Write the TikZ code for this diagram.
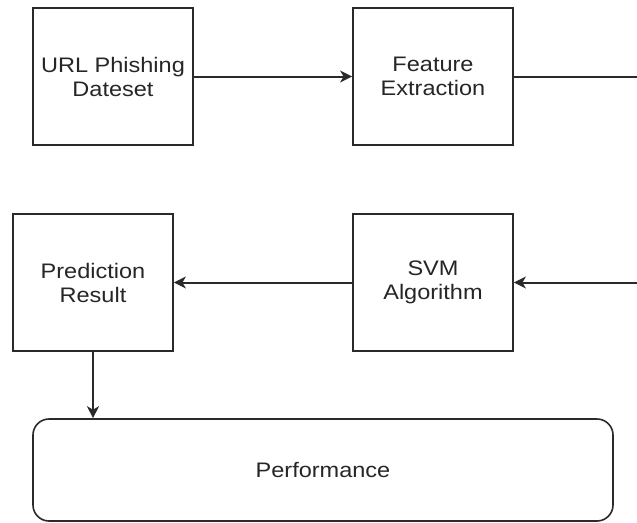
\documentclass[tikz,border=0pt]{standalone}
\usepackage{fontspec}
\setmainfont[FakeStretch=1.12]{Liberation Sans}
\usetikzlibrary{arrows.meta}
\definecolor{linegray}{HTML}{2A2A2A}
\definecolor{textgray}{HTML}{262626}
\begin{document}
\begin{tikzpicture}[x=1pt,y=-1pt,
  procbox/.style={draw=linegray, line width=1.8pt, fill=white, minimum width=160pt, minimum height=137pt,
    align=center, text=textgray, font=\fontsize{21pt}{24pt}\selectfont, inner sep=0pt},
  perfbox/.style={draw=linegray, line width=1.6pt, rounded corners=16pt, fill=white, minimum width=580pt, minimum height=102pt,
    align=center, text=textgray, font=\fontsize{21pt}{24pt}\selectfont, inner sep=0pt},
  flow/.style={draw=linegray, line width=2pt, -{Stealth[length=12pt,width=12pt,inset=3.5pt]}},
  plain/.style={draw=linegray, line width=2pt}]
\useasboundingbox (0,0) rectangle (637,522);
\node[procbox] (url) at (113,76.5) {URL Phishing\\Dateset};
\node[procbox] (feat) at (433,76.5) {Feature\\Extraction};
\node[procbox] (pred) at (93,282.5) {Prediction\\Result};
\node[procbox] (svm) at (433,282.5) {SVM\\Algorithm};
\node[perfbox] (perf) at (323,470) {Performance};
\coordinate (outr) at (637,76.5);
\coordinate (inr) at (637,282.5);
\draw[flow] (url) -- (feat);
\draw[plain] (feat.east) -- (outr);
\draw[flow] (inr) -- (svm.east);
\draw[flow] (svm) -- (pred);
\draw[flow] (pred.south) -- (pred.south |- perf.north);
\end{tikzpicture}
\end{document}
